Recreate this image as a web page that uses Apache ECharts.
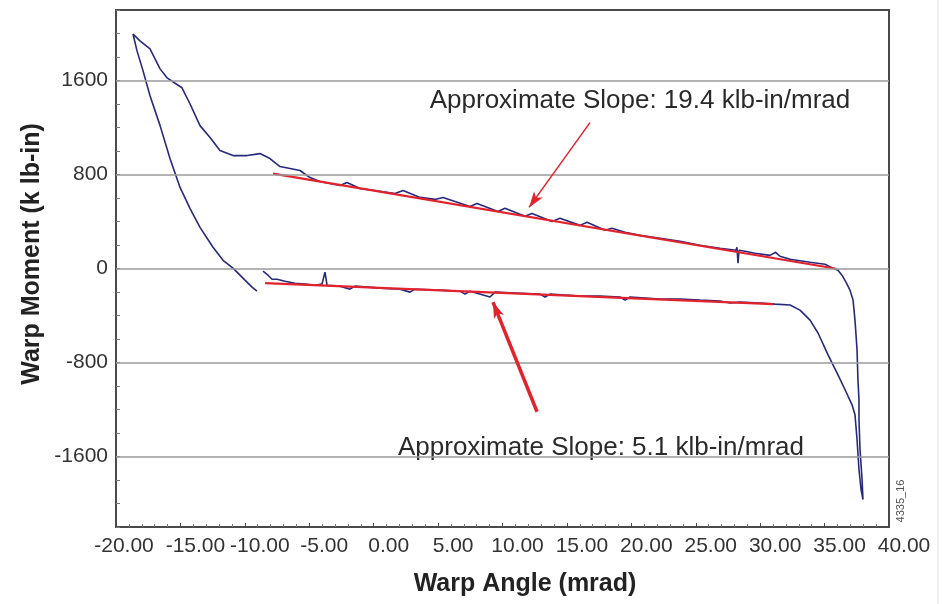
<!DOCTYPE html>
<html>
<head>
<meta charset="utf-8">
<script src="https://cdn.jsdelivr.net/npm/echarts@6/dist/echarts.min.js"></script>
<style>
  html, body { margin: 0; padding: 0; background: #ffffff; }
  #chart { width: 945px; height: 604px; }
</style>
</head>
<body>
<div id="chart"></div>
<script>
// ---- Data ----
// Hysteresis loop, in drawing order: lower branch (left->right), steep drop,
// near-vertical rise, upper branch (right->left), peak, left descending limb.
const warpAngle = [
  -8.59, -8.20, -7.89, -7.50, -6.88, -6.11, -5.33, -4.55, -4.01, -3.78, -3.62, -2.61, -1.84, -1.45,
  0.49, 2.04, 2.82, 3.21, 5.15, 6.70, 7.09, 7.48, 9.03, 9.42, 11.36, 12.91, 13.30, 13.69,
  16.02, 17.57, 19.12, 19.51, 19.90, 22.23, 23.78, 25.33, 26.88, 27.66, 28.44, 29.99, 31.15, 32.32,
  33.09, 33.87, 34.49, 35.27, 36.04, 36.59, 37.13, 37.36, 37.52, 37.67, 37.83, 37.98,
  37.91, 37.75, 37.67, 37.67, 37.59, 37.52, 37.36, 37.21, 36.97, 36.66, 36.35, 36.04, 35.65,
  35.03, 33.87, 32.32, 31.54, 31.20, 30.76, 29.60, 28.82, 28.36, 28.28, 28.20, 28.12, 26.88,
  25.33, 23.78, 22.23, 20.67, 19.51, 18.50, 17.96, 16.56, 16.02, 14.46, 13.84, 12.29, 11.75,
  10.19, 9.65, 8.02, 7.48, 5.38, 4.76, 3.60, 2.28, 1.66, 0.10, -1.06, -2.07, -2.61, -4.17,
  -4.94, -5.72, -6.49, -7.27, -8.05, -8.82, -9.83, -10.92, -11.93, -12.70, -13.48, -14.26,
  -14.88, -16.04, -16.58, -17.36, -18.14, -18.68,
  -18.37, -17.90, -17.36, -16.58, -15.81, -15.03, -14.26, -13.48, -12.47, -11.69, -10.92,
  -9.99, -9.44, -9.06
];
const warpMoment = [
  -23, -57, -91, -91, -108, -125, -133, -142, -133, -31, -142, -150, -176, -150,
  -167, -176, -201, -176, -184, -193, -218, -193, -243, -201, -210, -218, -243, -218,
  -235, -235, -243, -269, -243, -260, -260, -269, -277, -294, -286, -294, -303, -311,
  -354, -439, -549, -735, -905, -1032, -1160, -1244, -1457, -1711, -1881, -1966,
  -1796, -1541, -1287, -1117, -948, -693, -439, -269, -184, -116, -57, -14, 3,
  36, 53, 79, 104, 138, 112, 130, 147, 155, 45, 181, 155, 172,
  198, 232, 257, 282, 308, 342, 325, 393, 367, 427, 401, 469, 444,
  512, 486, 554, 528, 605, 588, 605, 664, 639, 664, 681, 732, 707, 741,
  774, 834, 851, 868, 936, 978, 961, 961, 1004, 1114, 1216, 1402,
  1538, 1623, 1699, 1869, 1937, 1996,
  1852, 1682, 1470, 1216, 936, 690, 512, 350, 181, 70, 3,
  -99, -159, -193
];
// Fitted slopes (red lines)
const fitUpperX = [-7.81, 35.81];
const fitUpperY = [808, 0];
const fitLowerX = [-8.43, 31.0];
const fitLowerY = [-125, -303];
// Annotation arrows: [fromX, fromY, toX, toY]
const arrowUpper = [16.79, 1241, 12.06, 520];
const arrowLower = [12.68, -1219, 9.26, -286];
// Axis ticks
const yTickValues = [-1600, -800, 0, 800, 1600];
const yMinorTicks = [-2200,-2000,-1800,-1600,-1400,-1200,-1000,-800,-600,-400,-200,0,200,400,600,800,1000,1200,1400,1600,1800,2000,2200];
const textUpper = 'Approximate Slope: 19.4 klb-in/mrad';
const textLower = 'Approximate Slope: 5.1 klb-in/mrad';

// ---- Build series data ----
const loopData = warpAngle.map((x, i) => [x, warpMoment[i]]);
const upperFit = fitUpperX.map((x, i) => [x, fitUpperY[i]]);
const lowerFit = fitLowerX.map((x, i) => [x, fitLowerY[i]]);

const RED = '#e3222c';
const FONT = '"Liberation Sans", Arial, Helvetica, sans-serif';

const chart = echarts.init(document.getElementById('chart'), null, { renderer: 'canvas' });
chart.setOption({
  backgroundColor: '#ffffff',
  animation: false,
  grid: {
    left: 116, right: 56, top: 10, bottom: 77,
    show: true, borderColor: '#4a4a4a', borderWidth: 2, backgroundColor: '#ffffff'
  },
  xAxis: {
    type: 'value', min: -20, max: 40, interval: 5,
    axisLine: { show: true, onZero: false, lineStyle: { color: '#4a4a4a', width: 2 } },
    axisTick: { show: true, length: 4, inside: true, lineStyle: { color: '#4a4a4a' } },
    minorTick: { show: true, splitNumber: 5, length: 3, lineStyle: { color: '#777' } },
    splitLine: { show: false },
    axisLabel: {
      margin: 9,
      color: '#333', fontFamily: FONT, fontSize: 21,
      formatter: function (v) {
        const t = v.toFixed(2);
        return v === -20 ? '{s|' + t + '}' : '{n|' + t + '}';
      },
      rich: {
        s: { color: '#333', fontFamily: FONT, fontSize: 21, padding: [0, 0, 0, 16] },
        n: { color: '#333', fontFamily: FONT, fontSize: 21, padding: [0, 0, 0, 30] }
      }
    }
  },
  yAxis: {
    type: 'value', min: -2200, max: 2200,
    axisLine: { show: true, onZero: false, lineStyle: { color: '#4a4a4a', width: 2 } },
    axisTick: { show: true, length: 4, inside: true, customValues: yMinorTicks, lineStyle: { color: '#777' } },
    splitLine: { show: false },
    axisLabel: {
      customValues: yTickValues,
      margin: 8, color: '#333', fontFamily: FONT, fontSize: 21,
      formatter: function (v) { return String(v); }
    }
  },
  graphic: [
    { type: 'text', x: 525, y: 584, style: { text: 'Warp Angle (mrad)', font: 'bold 25px ' + FONT, fill: '#222', align: 'center', verticalAlign: 'middle' } },
    { type: 'text', x: 32, y: 254, rotation: Math.PI / 2, style: { text: 'Warp Moment (k lb-in)', font: 'bold 25px ' + FONT, fill: '#222', align: 'center', verticalAlign: 'middle' } },
    { type: 'text', x: 640, y: 101, style: { text: textUpper, font: '26px ' + FONT, fill: '#2a2a2a', align: 'center', verticalAlign: 'middle' } },
    { type: 'text', x: 601, y: 448, style: { text: textLower, font: '26px ' + FONT, fill: '#2a2a2a', align: 'center', verticalAlign: 'middle' } },
    { type: 'text', x: 901, y: 501, rotation: Math.PI / 2, style: { text: '4335_16', font: '11px ' + FONT, fill: '#555', align: 'center', verticalAlign: 'middle' } },
    { type: 'line', shape: { x1: 938, y1: 0, x2: 938, y2: 604 }, style: { stroke: '#e2e2e2', lineWidth: 1 } }
  ],
  series: [
    {
      name: 'grid', type: 'line', data: [], z: 1, silent: true,
      markLine: {
        silent: true, symbol: ['none', 'none'], animation: false,
        label: { show: false },
        lineStyle: { color: '#9a9a9a', width: 1.5, type: 'solid' },
        data: yTickValues.map(v => ({ yAxis: v }))
      }
    },
    {
      name: 'Warp', type: 'line', data: loopData, z: 3,
      showSymbol: false, smooth: false,
      lineStyle: { color: '#252a7c', width: 1.6 },
      itemStyle: { color: '#252a7c' }
    },
    {
      name: 'Fit upper', type: 'line', data: upperFit, z: 4, showSymbol: false,
      lineStyle: { color: RED, width: 2.2 }
    },
    {
      name: 'Fit lower', type: 'line', data: lowerFit, z: 4, showSymbol: false,
      lineStyle: { color: RED, width: 2.2 },
      markLine: {
        silent: true, animation: false, symbol: ['none', 'arrow'],
        label: { show: false },
        data: [
          [ { coord: [arrowUpper[0], arrowUpper[1]], lineStyle: { color: RED, width: 1.5, type: 'solid' }, symbolSize: 9 },
            { coord: [arrowUpper[2], arrowUpper[3]] } ],
          [ { coord: [arrowLower[0], arrowLower[1]], lineStyle: { color: RED, width: 3.5, type: 'solid' }, symbolSize: 12 },
            { coord: [arrowLower[2], arrowLower[3]] } ]
        ]
      }
    }
  ]
});
</script>
</body>
</html>
